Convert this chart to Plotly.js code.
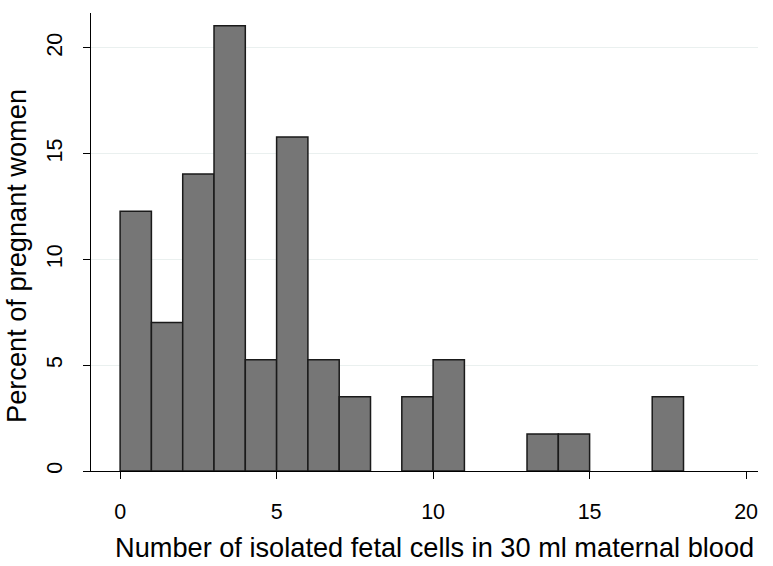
<!DOCTYPE html>
<html>
<head>
<meta charset="utf-8">
<script src="https://cdn.plot.ly/plotly-3.0.1.min.js"></script>
<style>html,body{margin:0;padding:0;background:#fff;}#chart{width:773px;height:566px;}</style>
</head>
<body>
<div id="chart"></div>
<script>
const binCenters = [0.5,1.5,2.5,3.5,4.5,5.5,6.5,7.5,8.5,9.5,10.5,11.5,12.5,13.5,14.5,15.5,16.5,17.5];
const percentWomen = [12.28,7.02,14.04,21.05,5.26,15.79,5.26,3.51,0,3.51,5.26,0,0,1.75,1.75,0,0,3.51];
const xTicks = [0,5,10,15,20];
const yTicks = [0,5,10,15,20];
const xTitle = 'Number of isolated fetal cells in 30 ml maternal blood';
const yTitle = 'Percent of pregnant women';

const fontFam = 'Liberation Sans, Arial, sans-serif';
const trace = {
  type: 'bar',
  x: binCenters,
  y: percentWomen.map(v => v === 0 ? null : v),
  width: 1,
  marker: {color: '#767676', line: {color: '#1a1a1a', width: 1.5}},
  hoverinfo: 'x+y'
};
const layout = {
  width: 773, height: 566,
  margin: {l: 91, r: 15, t: 13, b: 95},
  paper_bgcolor: '#ffffff',
  plot_bgcolor: '#ffffff',
  showlegend: false,
  bargap: 0,
  font: {family: fontFam, color: '#000'},
  xaxis: {
    range: [-0.93, 20.38],
    tickvals: xTicks,
    ticktext: xTicks.map(String),
    ticks: 'outside', ticklen: 7, tickwidth: 1, tickcolor: '#000',
    ticklabelstandoff: 14,
    showline: true, linecolor: '#000', linewidth: 1,
    showgrid: false, zeroline: false,
    tickfont: {size: 21.5, family: fontFam}
  },
  yaxis: {
    range: [0, 21.65],
    tickvals: yTicks,
    ticktext: yTicks.map(String),
    tickangle: -90,
    ticks: 'outside', ticklen: 7, tickwidth: 1, tickcolor: '#000',
    ticklabelstandoff: 12,
    showline: true, linecolor: '#000', linewidth: 1,
    showgrid: true, gridcolor: '#eaf0ef', gridwidth: 1,
    zeroline: false,
    tickfont: {size: 21.5, family: fontFam}
  },
  annotations: [
    {text: xTitle, xref: 'paper', yref: 'paper', x: 0.5157, y: -0.167,
     xanchor: 'center', yanchor: 'middle', showarrow: false,
     font: {size: 27.2, family: fontFam, color: '#000'}},
    {text: yTitle, xref: 'paper', yref: 'paper', x: -0.1117, y: 0.4705,
     xanchor: 'center', yanchor: 'middle', showarrow: false, textangle: -90,
     font: {size: 27.2, family: fontFam, color: '#000'}}
  ]
};
Plotly.newPlot('chart', [trace], layout, {displayModeBar: false, staticPlot: true});
</script>
</body>
</html>
